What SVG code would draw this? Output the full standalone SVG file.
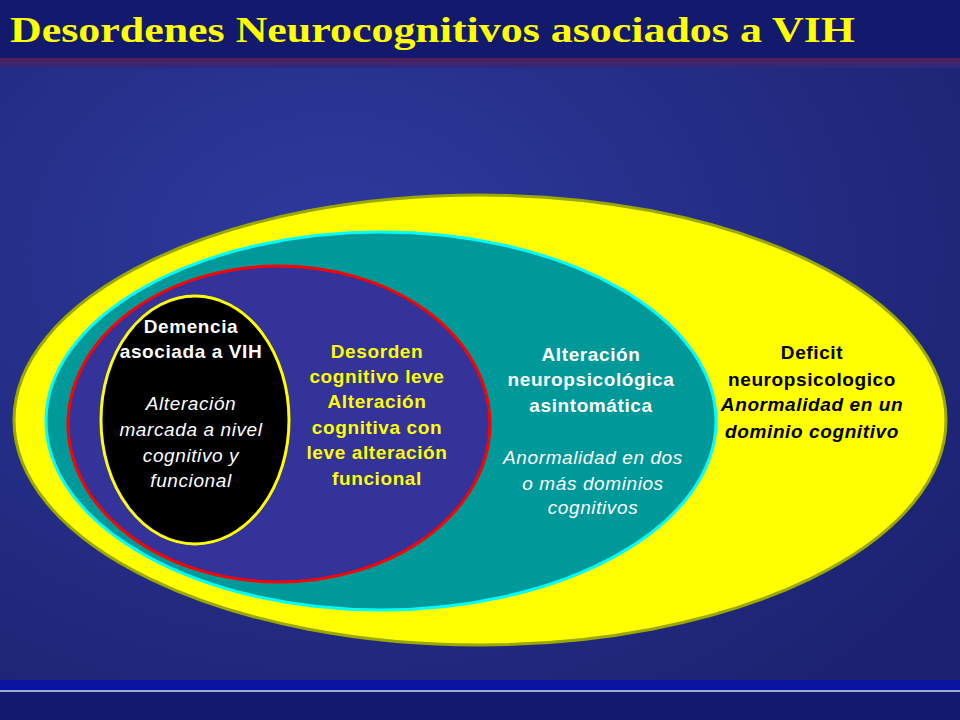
<svg xmlns="http://www.w3.org/2000/svg" width="960" height="720" viewBox="0 0 960 720">
<defs>
<radialGradient id="bg" cx="0.35" cy="0.35" r="0.8">
<stop offset="0" stop-color="#2e3a9e"/><stop offset="1" stop-color="#1c2270"/>
</radialGradient>
<linearGradient id="red" x1="0" y1="0" x2="0" y2="1"><stop offset="0" stop-color="#5a1e5a"/><stop offset="1" stop-color="#2a2a80"/></linearGradient>
<style>
text{font-family:"Liberation Sans",Arial,sans-serif;font-size:19px;letter-spacing:0.6px;text-anchor:middle;font-weight:bold}
.w{fill:#ffffff}.y{fill:#ffff00}.k{fill:#000000}
.i{font-style:italic;font-weight:normal}
.ib{font-style:italic;font-weight:bold}
</style>
</defs>
<rect width="960" height="720" fill="url(#bg)"/>
<rect width="960" height="58" fill="#131a6e"/>
<rect y="58" width="960" height="10" fill="url(#red)"/>
<rect y="680" width="960" height="10" fill="#0a14a0"/>
<rect y="690" width="960" height="2" fill="#a0a8d8"/>
<rect y="692" width="960" height="28" fill="#121a70"/>
<text x="10" y="42" textLength="845" lengthAdjust="spacingAndGlyphs" style="font-family:'Liberation Serif',serif;font-size:36px;fill:#ffff00;font-weight:bold;text-anchor:start;letter-spacing:0">Desordenes Neurocognitivos asociados a VIH</text>
<g id="n-deficit">
<ellipse cx="480" cy="420" rx="466" ry="225" fill="#ffff00" stroke="#9aa800" stroke-width="3"/>
<text class="k" x="812" y="359">Deficit</text>
<text class="k" x="812" y="386">neuropsicologico</text>
<text class="k ib" x="812" y="411">Anormalidad en un</text>
<text class="k ib" x="812" y="438">dominio cognitivo</text>
</g>
<g id="n-asint">
<ellipse cx="381" cy="421" rx="335" ry="189" fill="#009999" stroke="#00ffff" stroke-width="3"/>
<text class="w" x="591" y="361">Alteración</text>
<text class="w" x="591" y="386">neuropsicológica</text>
<text class="w" x="591" y="412">asintomática</text>
<text class="w i" x="593" y="464">Anormalidad en dos</text>
<text class="w i" x="593" y="490">o más dominios</text>
<text class="w i" x="593" y="514">cognitivos</text>
</g>
<g id="n-leve">
<ellipse cx="279" cy="424" rx="211" ry="158" fill="#333399" stroke="#ff0000" stroke-width="3"/>
<text class="y" x="377" y="358">Desorden</text>
<text class="y" x="377" y="383">cognitivo leve</text>
<text class="y" x="377" y="408">Alteración</text>
<text class="y" x="377" y="434">cognitiva con</text>
<text class="y" x="377" y="459">leve alteración</text>
<text class="y" x="377" y="485">funcional</text>
</g>
<g id="n-demencia">
<ellipse cx="195" cy="420" rx="94" ry="124" fill="#000000" stroke="#ffff00" stroke-width="3"/>
<text class="w" x="191" y="333">Demencia</text>
<text class="w" x="191" y="358">asociada a VIH</text>
<text class="w i" x="191" y="410">Alteración</text>
<text class="w i" x="191" y="436">marcada a nivel</text>
<text class="w i" x="191" y="462">cognitivo y</text>
<text class="w i" x="191" y="487">funcional</text>
</g>
<g id="connectors"/>
</svg>
